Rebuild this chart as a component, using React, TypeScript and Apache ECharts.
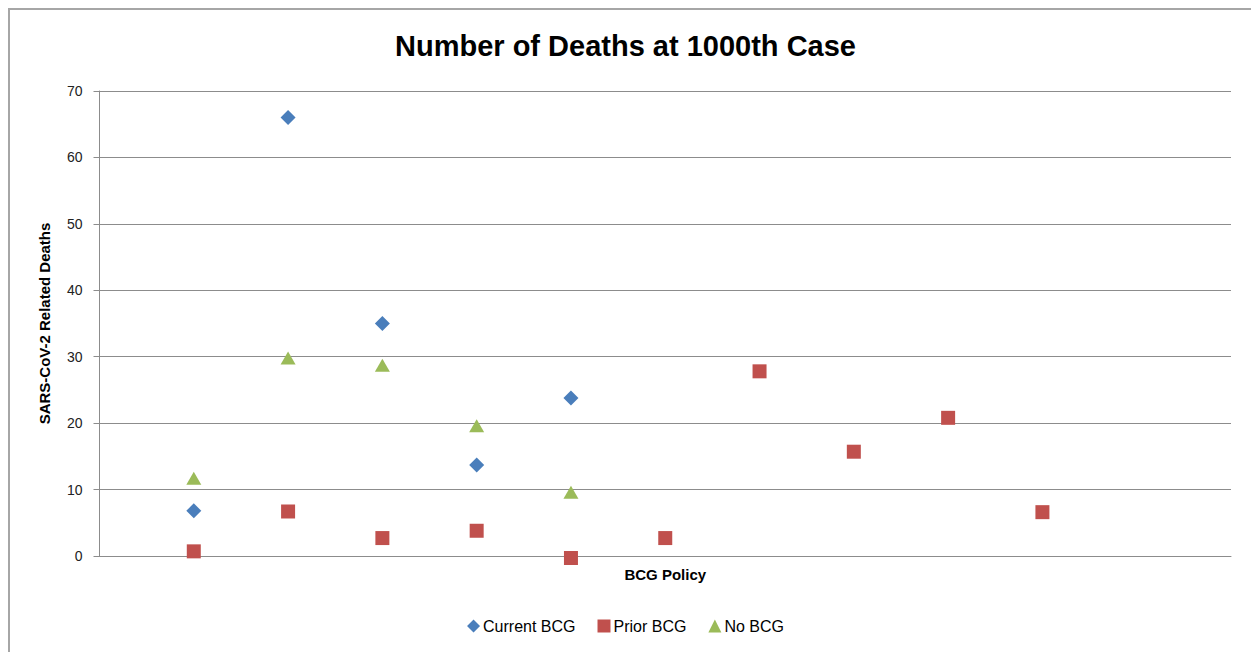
import React, { useEffect, useRef } from "react";
import * as echarts from "echarts";

const titleText = "Number of Deaths at 1000th Case";
const yAxisName = "SARS-CoV-2 Related Deaths";
const xAxisName = "BCG Policy";

const currentX = [1, 2, 3, 4, 5];
const currentBCG = [6.8, 66, 35, 13.7, 23.8];

const priorX = [1, 2, 3, 4, 5, 6, 7, 8, 9, 10];
const priorBCG = [0.7, 6.7, 2.7, 3.8, -0.3, 2.7, 27.8, 15.7, 20.8, 6.6];

const noX = [1, 2, 3, 4, 5];
const noBCG = [11.7, 29.8, 28.7, 19.6, 9.6];

const seriesNames = ["Current BCG", "Prior BCG", "No BCG"];
const colors = ["#4a7ebb", "#c0504d", "#9bbb59"];

const pair = (xs: number[], ys: number[]) => xs.map((x, i) => [x, ys[i]]);

export default function App() {
  const ref = useRef<HTMLDivElement>(null);
  useEffect(() => {
    if (!ref.current) return;
    const chart = echarts.init(ref.current, null, { renderer: "svg" });
    const font = "'Liberation Sans', Arial, sans-serif";
    chart.setOption({
      animation: false,
      backgroundColor: "#ffffff",
      textStyle: { fontFamily: font },
      title: {
        text: titleText,
        left: "center",
        top: 26,
        textStyle: { fontSize: 29, fontWeight: "bold", color: "#000", fontFamily: font },
      },
      graphic: [
        {
          type: "rect",
          shape: { x: 9, y: 9, width: 1400, height: 800 },
          style: { fill: "none", stroke: "#a6a6a6", lineWidth: 2 },
          silent: true,
        },
      ],
      grid: { left: 99.5, right: 20, top: 91, bottom: 96, containLabel: false },
      xAxis: {
        type: "value",
        min: 0,
        max: 12,
        name: xAxisName,
        nameLocation: "middle",
        nameGap: 11,
        nameTextStyle: { fontSize: 15, fontWeight: "bold", color: "#000" },
        axisLine: { show: true, onZero: true, lineStyle: { color: "#8c8c8c", width: 1 } },
        axisTick: { show: false },
        axisLabel: { show: false },
        splitLine: { show: false },
      },
      yAxis: {
        type: "value",
        min: 0,
        max: 70,
        interval: 10,
        name: yAxisName,
        nameLocation: "middle",
        nameGap: 48,
        nameRotate: 90,
        nameTextStyle: { fontSize: 15, fontWeight: "bold", color: "#000" },
        axisLine: { show: true, lineStyle: { color: "#8c8c8c", width: 1 } },
        axisTick: { show: true, length: 6, lineStyle: { color: "#8c8c8c" } },
        axisLabel: { fontSize: 14, color: "#222", margin: 17 },
        splitLine: { show: true, lineStyle: { color: "#8c8c8c", width: 1 } },
      },
      legend: {
        top: 613,
        left: "center",
        itemGap: 22,
        itemWidth: 13,
        itemHeight: 13,
        textStyle: { fontSize: 16, color: "#000", padding: [0, 0, 0, -2] },
        data: [
          { name: seriesNames[0], icon: "diamond" },
          { name: seriesNames[1], icon: "rect" },
          { name: seriesNames[2], icon: "triangle" },
        ],
      },
      series: [
        {
          name: seriesNames[0],
          type: "scatter",
          symbol: "diamond",
          symbolSize: 15,
          clip: false,
          itemStyle: { color: colors[0], opacity: 1 },
          data: pair(currentX, currentBCG),
        },
        {
          name: seriesNames[1],
          type: "scatter",
          symbol: "rect",
          symbolSize: 14,
          clip: false,
          itemStyle: { color: colors[1], opacity: 1 },
          data: pair(priorX, priorBCG),
        },
        {
          name: seriesNames[2],
          type: "scatter",
          symbol: "triangle",
          symbolSize: [15, 13],
          clip: false,
          itemStyle: { color: colors[2], opacity: 1 },
          data: pair(noX, noBCG),
        },
      ],
    });
    return () => chart.dispose();
  }, []);
  return (
    <div
      ref={ref}
      style={{ position: "absolute", left: 0, top: 0, width: 1251, height: 652 }}
    />
  );
}
